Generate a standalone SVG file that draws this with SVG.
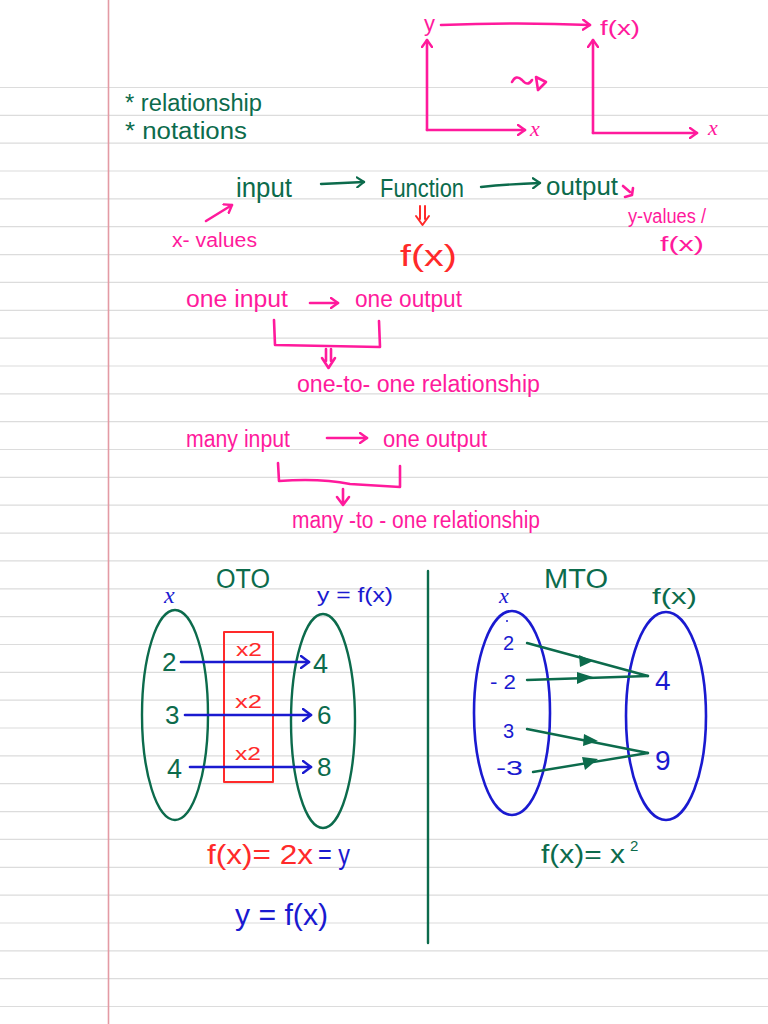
<svg xmlns="http://www.w3.org/2000/svg" width="768" height="1024" viewBox="0 0 768 1024">
<defs>
<style>
text{font-family:"Liberation Sans","DejaVu Sans",sans-serif}
.pk{fill:#ff1a9c}.gr{fill:#0c6b4c}.bl{fill:#1a1ad0}.rd{fill:#ff2a2a}
.mx{font-family:"Liberation Serif","DejaVu Serif",serif;font-style:italic}
.lp{stroke:#ff1a9c;stroke-width:2.6;fill:none;stroke-linecap:round;stroke-linejoin:round}
.lg{stroke:#0c6b4c;stroke-width:2.4;fill:none;stroke-linecap:round;stroke-linejoin:round}
.lb{stroke:#1a1ad0;stroke-width:2.6;fill:none;stroke-linecap:round;stroke-linejoin:round}
.lr{stroke:#ff2a2a;stroke-width:2;fill:none;stroke-linecap:round;stroke-linejoin:round}
.rule{stroke:#dcdcdc;stroke-width:1.2}
</style>
<marker id="mp" markerWidth="10" markerHeight="12" refX="8" refY="6" orient="auto" markerUnits="userSpaceOnUse"><path d="M1,1 L8,6 L1,11" fill="none" stroke="#ff1a9c" stroke-width="2.4" stroke-linecap="round" stroke-linejoin="round"/></marker>
<marker id="mg" markerWidth="10" markerHeight="12" refX="8" refY="6" orient="auto" markerUnits="userSpaceOnUse"><path d="M1,1 L8,6 L1,11" fill="none" stroke="#0c6b4c" stroke-width="2.2" stroke-linecap="round" stroke-linejoin="round"/></marker>
<marker id="mb" markerWidth="12" markerHeight="14" refX="9" refY="7" orient="auto" markerUnits="userSpaceOnUse"><path d="M1,1 L9,7 L1,13" fill="none" stroke="#1a1ad0" stroke-width="2.4" stroke-linecap="round" stroke-linejoin="round"/></marker>
</defs>
<rect width="768" height="1024" fill="#ffffff"/>
<g id="paper">
<path class="rule" d="M0,87.5H768M0,115.4H768M0,143.2H768M0,171H768M0,198.9H768M0,226.7H768M0,254.6H768M0,282.4H768M0,310.3H768M0,338.1H768M0,366H768M0,393.8H768M0,421.7H768M0,449.5H768M0,477.4H768M0,505.2H768M0,533.1H768M0,560.9H768M0,588.8H768M0,616.6H768M0,644.5H768M0,672.3H768M0,700.2H768M0,728H768M0,755.9H768M0,783.7H768M0,811.6H768M0,839.4H768M0,867.3H768M0,895.1H768M0,923H768M0,950.8H768M0,978.7H768M0,1006.5H768"/>
<line x1="108.5" y1="0" x2="108.5" y2="1024" stroke="#e39aa4" stroke-width="1.6"/>
</g>
<g id="header">
<text x="125" y="111" class="gr" font-size="23" textLength="137" lengthAdjust="spacingAndGlyphs">* relationship</text>
<text x="125" y="139" class="gr" font-size="23" textLength="122" lengthAdjust="spacingAndGlyphs">* notations</text>
</g>
<g id="axes-y">
<text x="424" y="31" class="pk" font-size="22">y</text>
<text x="530" y="136" class="pk mx" font-size="22">x</text>
</g>
<g id="axes-fx">
<text x="600" y="35" class="pk" font-size="20" textLength="40" lengthAdjust="spacingAndGlyphs">f(x)</text>
<text x="708" y="135" class="pk mx" font-size="22">x</text>
</g>
<g id="input"><text x="236" y="197" class="gr" font-size="27" textLength="56" lengthAdjust="spacingAndGlyphs">input</text></g>
<g id="function"><text x="380" y="197" class="gr" font-size="26" textLength="84" lengthAdjust="spacingAndGlyphs">Function</text></g>
<g id="output"><text x="546" y="195" class="gr" font-size="26" textLength="72" lengthAdjust="spacingAndGlyphs">output</text></g>
<g id="xvalues"><text x="172" y="247" class="pk" font-size="20" textLength="85" lengthAdjust="spacingAndGlyphs">x- values</text></g>
<g id="fx-red"><text x="400" y="266" class="rd" font-size="29" textLength="57" lengthAdjust="spacingAndGlyphs">f(x)</text></g>
<g id="yvalues">
<text x="628" y="223" class="pk" font-size="20" textLength="78" lengthAdjust="spacingAndGlyphs">y-values /</text>
<text x="660" y="251" class="pk" font-size="20" textLength="44" lengthAdjust="spacingAndGlyphs">f(x)</text>
</g>
<g id="oto-line">
<text x="186" y="307" class="pk" font-size="23" textLength="102" lengthAdjust="spacingAndGlyphs">one input</text>
<text x="355" y="307" class="pk" font-size="23" textLength="107" lengthAdjust="spacingAndGlyphs">one output</text>
</g>
<g id="oto-rel"><text x="297" y="392" class="pk" font-size="23" textLength="243" lengthAdjust="spacingAndGlyphs">one-to- one  relationship</text></g>
<g id="mto-line">
<text x="186" y="447" class="pk" font-size="23" textLength="104" lengthAdjust="spacingAndGlyphs">many input</text>
<text x="383" y="447" class="pk" font-size="23" textLength="104" lengthAdjust="spacingAndGlyphs">one output</text>
</g>
<g id="mto-rel"><text x="292" y="528" class="pk" font-size="23" textLength="248" lengthAdjust="spacingAndGlyphs">many -to - one relationship</text></g>
<g id="oto-diagram">
<text x="216" y="588" class="gr" font-size="27" textLength="54" lengthAdjust="spacingAndGlyphs">OTO</text>
<text x="164" y="603" class="bl mx" font-size="24">x</text>
<text x="317" y="602" class="bl" font-size="20" textLength="76" lengthAdjust="spacingAndGlyphs">y = f(x)</text>
<ellipse cx="175" cy="715" rx="33" ry="105" class="lg"/>
<ellipse cx="323" cy="721" rx="32" ry="107" class="lg"/>
<rect x="224" y="632" width="49" height="150" class="lr"/>
<text x="236" y="656" class="rd" font-size="18" textLength="26" lengthAdjust="spacingAndGlyphs">x2</text>
<text x="235" y="708" class="rd" font-size="18" textLength="27" lengthAdjust="spacingAndGlyphs">x2</text>
<text x="235" y="760" class="rd" font-size="18" textLength="26" lengthAdjust="spacingAndGlyphs">x2</text>
<text x="162" y="671" class="gr" font-size="26">2</text>
<text x="165" y="724" class="gr" font-size="26">3</text>
<text x="167" y="778" class="gr" font-size="27">4</text>
<text x="313" y="673" class="gr" font-size="27">4</text>
<text x="317" y="724" class="gr" font-size="26">6</text>
<text x="317" y="776" class="gr" font-size="26">8</text>
</g>
<g id="oto-formula">
<text x="207" y="864" class="rd" font-size="27" textLength="106" lengthAdjust="spacingAndGlyphs">f(x)= 2x</text>
<text x="318" y="864" class="bl" font-size="27" textLength="32" lengthAdjust="spacingAndGlyphs">= y</text>
<text x="235" y="925" class="bl" font-size="29" textLength="93" lengthAdjust="spacingAndGlyphs">y = f(x)</text>
</g>
<g id="mto-diagram">
<text x="544" y="588" class="gr" font-size="27" textLength="64" lengthAdjust="spacingAndGlyphs">MTO</text>
<text x="499" y="603" class="bl mx" font-size="22">x</text>
<text x="652" y="604" class="gr" font-size="22" textLength="45" lengthAdjust="spacingAndGlyphs">f(x)</text>
<ellipse cx="512" cy="713" rx="38" ry="102" class="lb"/>
<ellipse cx="666" cy="716" rx="40" ry="104" class="lb"/>
<circle cx="507" cy="621" r="1" fill="#1a1ad0"/>
<text x="503" y="650" class="bl" font-size="20">2</text>
<text x="490" y="689" class="bl" font-size="20" textLength="26" lengthAdjust="spacingAndGlyphs">- 2</text>
<text x="503" y="738" class="bl" font-size="20">3</text>
<text x="496" y="775" class="bl" font-size="21" textLength="27" lengthAdjust="spacingAndGlyphs">-3</text>
<text x="655" y="690" class="bl" font-size="28">4</text>
<text x="655" y="770" class="bl" font-size="28">9</text>
</g>
<g id="mto-formula">
<text x="541" y="863" class="gr" font-size="25" textLength="84" lengthAdjust="spacingAndGlyphs">f(x)=  x</text>
<text x="630" y="851" class="gr" font-size="15">2</text>
</g>
<g id="connectors">
<path class="lp" d="M427,130 L427,40" marker-end="url(#mp)"/>
<path class="lp" d="M427,130 L525,130" marker-end="url(#mp)"/>
<path class="lp" d="M441,25 Q520,22 590,25" marker-end="url(#mp)"/>
<path class="lp" d="M593,133 L593,40" marker-end="url(#mp)"/>
<path class="lp" d="M593,133 L697,133" marker-end="url(#mp)"/>
<path class="lp" d="M512,82 Q516,74 522,80 Q528,87 532,80"/>
<path class="lp" d="M536,77 L546,82 L538,90 Z" stroke-width="2.4"/>
<path class="lg" d="M321,184 L364,182" marker-end="url(#mg)"/>
<path class="lg" d="M481,187 Q510,184 540,183" marker-end="url(#mg)"/>
<path class="lp" d="M206,221 L232,205" marker-end="url(#mp)" stroke-width="2.2"/>
<path class="lp" stroke-width="2" d="M623,186 L630,192 M625,197 L632,195 L633,188"/>
<path class="lr" stroke-width="2.2" d="M420,206 L420,219 M425,206 L425,219 M416,216 L422.5,225 L429,216"/>
<path class="lp" d="M310,303 L338,303" marker-end="url(#mp)" stroke-width="2.2"/>
<path class="lp" d="M274,320 L275,345 L380,347 L379,321"/>
<path class="lp" stroke-width="2" d="M326,349 L326,361 M331,349 L331,361 M322,358 L328.5,368 L335,358"/>
<path class="lp" d="M327,438 L367,438" marker-end="url(#mp)" stroke-width="2.2"/>
<path class="lp" d="M278,463 L279,481 Q320,478 350,484 L400,487 L400,466"/>
<path class="lp" d="M343,489 L343,504 M337,497 L343,505 L349,497"/>
<path class="lb" d="M181,662 L309,662" marker-end="url(#mb)"/>
<path class="lb" d="M185,715 L311,715" marker-end="url(#mb)"/>
<path class="lb" d="M190,767 L311,767" marker-end="url(#mb)"/>
<path class="lg" d="M428,571 L428,943" stroke-width="2.2"/>
<path class="lg" d="M527,643 L648,676" stroke-width="2"/>
<path class="lg" d="M527,680 L648,676" stroke-width="2"/>
<path class="lg" d="M527,729 L648,753" stroke-width="2"/>
<path class="lg" d="M533,772 L648,753" stroke-width="2"/>
<path d="M579,655 L593,661 L580,667 Z" fill="#0c6b4c"/>
<path d="M577,672 L593,677 L577,684 Z" fill="#0c6b4c"/>
<path d="M584,734 L598,741 L583,746 Z" fill="#0c6b4c"/>
<path d="M582,757 L598,759 L585,770 Z" fill="#0c6b4c"/>
</g>
</svg>
